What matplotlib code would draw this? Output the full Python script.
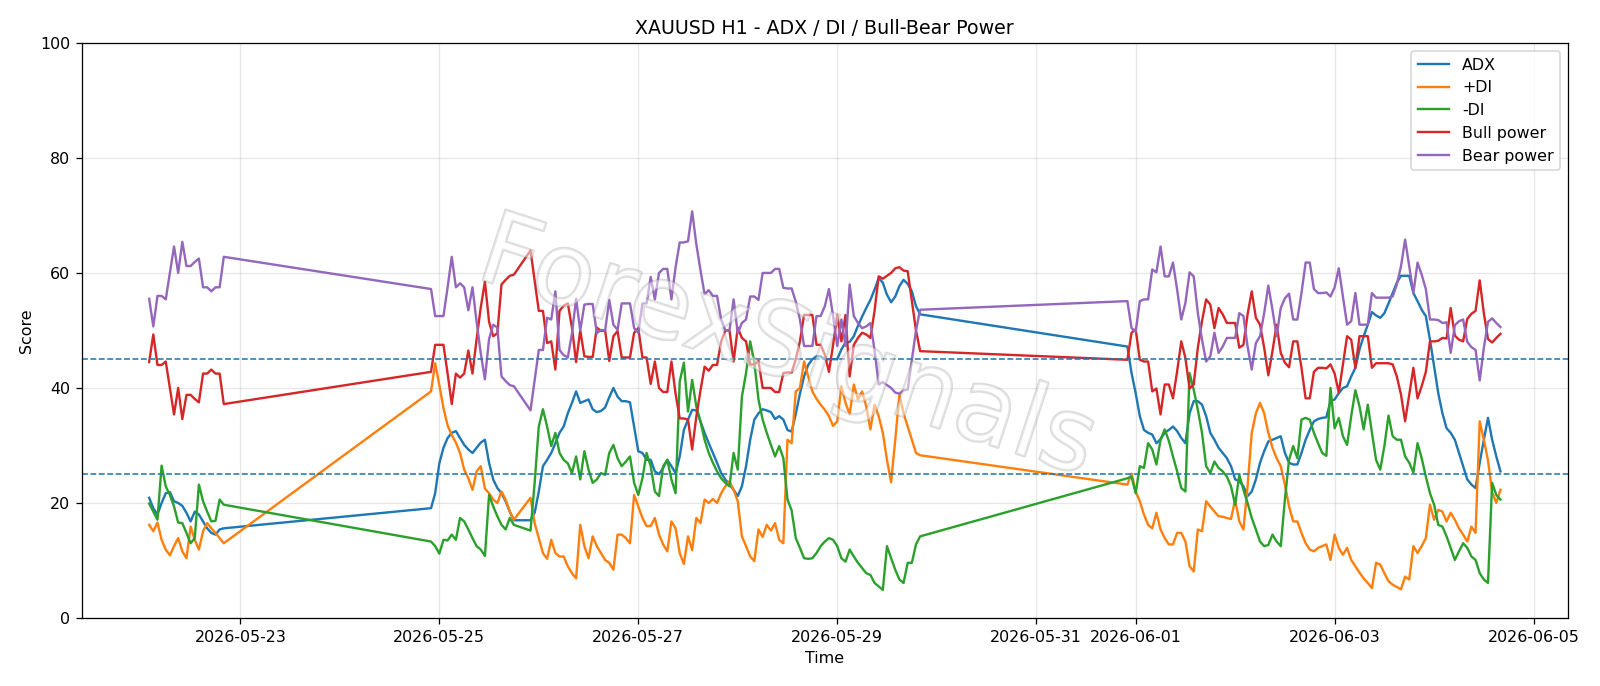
import matplotlib
matplotlib.use("Agg")
import matplotlib.pyplot as plt
import matplotlib.patheffects as pe
import pandas as pd

# hourly sessions (gaps = weekend / missing bars)
sessions = [("2026-05-22 02:00", "2026-05-22 20:00"),
            ("2026-05-24 22:00", "2026-05-29 20:00"),
            ("2026-05-31 22:00", "2026-06-04 16:00")]
missing = ["2026-05-25 19:00", "2026-05-25 20:00", "2026-05-25 21:00"]

adx = [20.9, 19.1, 18.0, 20.0, 21.7, 21.9, 20.3, 20.0, 19.5, 18.3, 16.8, 18.5, 18.0, 16.8, 15.6, 14.8, 14.5, 15.4, 15.6,
       19.1, 21.7, 26.9, 29.6, 31.3, 32.2, 32.5, 31.3, 30.1, 29.3, 28.7, 29.6, 30.5, 31.0, 27.0, 24.1, 22.6, 21.7, 20.3, 18.5, 17.0,
       17.0, 18.3, 22.0, 26.4, 27.5, 28.7, 30.4, 32.2, 33.3, 35.6,
       37.4, 39.4, 37.4, 37.7, 38.0, 36.3, 35.8, 36.0, 36.6, 38.4,
       40.0, 38.5, 37.7, 37.7, 37.5, 33.3, 29.0, 28.7, 27.5, 27.5,
       25.5, 25.0, 26.1, 27.5, 26.4, 25.2, 28.1, 32.7, 34.5, 36.2,
       36.1, 34.2, 32.2, 30.4, 28.7, 27.0, 25.2, 24.1, 23.2, 22.3,
       21.2, 22.9, 26.4, 31.0, 34.5, 35.6, 36.3, 36.1, 35.8, 34.6,
       35.1, 34.5, 32.7, 32.4, 35.5, 39.0, 42.0, 44.0, 45.0, 45.5,
       45.5, 45.0, 45.0, 45.0, 45.0, 46.7, 47.9, 48.0, 49.0, 50.8,
       52.4, 53.9, 55.3, 57.1, 59.1, 58.3, 56.2, 54.9, 55.9, 57.7,
       58.8, 58.1, 56.8, 54.2, 52.8,
       47.2, 42.6, 39.1, 35.1, 32.7, 32.2, 31.9, 30.4, 31.1, 32.2,
       32.7, 33.3, 32.5, 31.3, 30.4, 35.6, 37.7, 37.7, 37.1, 35.1,
       32.2, 31.0, 29.6, 28.7, 27.8, 26.4, 24.1, 23.8, 22.9, 21.2,
       22.0, 24.1, 27.0, 29.0, 30.7, 31.0, 31.3, 31.6, 28.7, 27.0,
       26.7, 26.7, 28.7, 31.0, 32.7, 34.2, 34.6, 34.8, 34.9, 37.7,
       38.0, 39.1, 40.0, 40.3, 42.0, 43.5, 46.7, 49.0, 51.0, 53.2,
       52.6, 52.2, 53.0, 54.7, 56.5, 58.3, 59.5, 59.5, 59.5, 56.5,
       55.1, 53.6, 52.5, 48.4, 43.8, 39.1, 35.6, 33.0, 32.2, 31.0,
       28.7, 26.4, 24.1, 23.2, 22.6, 27.0, 31.0, 34.8, 31.0, 28.1,
       25.5]

plus_di = [16.2, 15.1, 16.6, 13.6, 11.9, 10.9, 12.5, 13.9, 11.6, 10.4, 15.9, 13.6, 11.9, 15.1, 16.5, 15.6, 14.8, 13.9, 13.0,
           39.4, 44.3, 40.5, 36.5, 33.5, 31.8, 30.5, 28.7, 25.8, 24.3, 22.3, 25.5, 26.4, 22.5, 21.7, 20.6, 20.0, 22.0, 20.6, 18.5, 17.1,
           20.9, 16.5, 13.9, 11.3, 10.3, 13.6, 11.3, 10.7, 10.7, 9.0,
           7.8, 6.9, 16.2, 12.5, 10.4, 14.2, 12.5, 11.3, 10.1, 9.6,
           8.4, 14.5, 14.5, 13.9, 13.0, 21.4, 19.4, 17.4, 16.0, 16.0,
           17.4, 14.5, 12.8, 11.6, 16.8, 15.6, 11.3, 9.4, 14.2, 11.8,
           17.4, 16.5, 20.6, 20.0, 20.7, 20.0, 21.7, 22.9, 23.8, 22.3,
           20.3, 14.2, 12.5, 10.7, 9.9, 15.4, 14.1, 16.2, 15.2, 16.5,
           13.6, 13.0, 31.0, 30.4, 39.4, 40.0, 44.6, 42.0, 39.4, 38.1,
           37.1, 36.2, 35.1, 33.4, 34.2, 40.3, 37.4, 35.4, 40.6, 38.0,
           39.4, 36.8, 32.8, 37.1, 35.1, 32.2, 27.5, 23.6, 31.0, 38.8,
           35.6, 33.3, 31.0, 28.7, 28.3,
           23.2, 25.1, 22.0, 20.3, 18.0, 16.2, 15.6, 18.3, 15.4, 13.9,
           12.8, 12.8, 14.8, 14.8, 13.3, 9.0, 8.1, 15.4, 15.1, 20.3,
           19.4, 18.5, 17.7, 17.6, 17.4, 17.2, 20.6, 16.8, 15.4, 22.9,
           32.2, 35.6, 37.4, 35.6, 32.2, 29.6, 27.8, 26.4, 23.2, 19.4,
           16.8, 16.8, 14.8, 13.0, 11.9, 11.6, 12.2, 12.5, 12.8, 10.1,
           14.5, 12.2, 11.0, 12.2, 10.1, 9.0, 7.9, 6.9, 6.1, 5.2,
           9.6, 9.3, 7.8, 6.4, 5.8, 5.4, 5.0, 7.2, 6.7, 12.5,
           11.3, 12.5, 13.9, 19.7, 17.1, 18.8, 18.5, 16.8, 18.3, 17.1,
           15.6, 14.5, 13.3, 15.9, 14.8, 34.2, 31.0, 27.4, 21.9, 20.0,
           22.3]

minus_di = [19.9, 18.5, 17.1, 26.5, 22.9, 21.4, 19.4, 16.6, 16.5, 14.8, 13.0, 13.9, 23.2, 20.3, 18.5, 16.8, 16.9, 20.6, 19.7,
            13.3, 12.5, 11.2, 13.6, 13.5, 14.5, 13.6, 17.4, 16.8, 15.4, 13.9, 12.5, 11.9, 10.8, 21.4, 19.4, 17.7, 16.2, 15.4, 17.4, 16.2,
            15.2, 23.5, 33.3, 36.3, 33.3, 29.9, 32.2, 28.7, 27.5, 26.9,
            25.2, 28.1, 24.1, 29.0, 25.8, 23.5, 24.1, 25.2, 24.9, 28.7,
            30.1, 27.8, 26.4, 27.2, 28.1, 23.5, 21.4, 24.3, 28.7, 26.4,
            22.0, 21.2, 26.4, 27.5, 24.1, 21.7, 41.1, 44.4, 35.9, 41.4,
            36.8, 34.2, 31.0, 28.7, 27.0, 25.5, 24.3, 23.5, 22.9, 28.7,
            25.8, 38.5, 42.6, 48.1, 44.4, 38.0, 34.5, 32.2, 30.1, 28.1,
            29.9, 27.8, 20.6, 18.7, 13.9, 12.2, 10.4, 10.3, 10.4, 11.3,
            12.5, 13.3, 13.9, 13.6, 12.5, 10.4, 9.8, 11.9, 10.7, 9.6,
            8.7, 7.8, 7.5, 6.1, 5.5, 4.9, 12.5, 10.4, 8.4, 6.7,
            6.1, 9.6, 9.6, 12.8, 14.2,
            24.3, 24.6, 21.7, 26.4, 26.1, 30.4, 29.3, 26.7, 31.0, 32.8,
            30.8, 28.1, 25.5, 22.6, 22.0, 42.6, 39.7, 36.2, 32.2, 26.4,
            25.2, 27.2, 26.1, 25.5, 24.6, 22.9, 19.7, 24.9, 22.3, 20.0,
            17.4, 15.4, 13.3, 12.5, 12.7, 14.5, 13.3, 12.5, 20.6, 27.5,
            29.9, 27.8, 34.5, 34.8, 34.5, 32.2, 30.4, 28.7, 28.2, 40.0,
            33.0, 34.8, 31.6, 30.1, 35.1, 39.6, 36.8, 32.8, 37.1, 32.2,
            27.5, 25.8, 29.9, 35.2, 31.6, 31.0, 31.0, 28.1, 27.0, 25.3,
            30.4, 27.8, 24.6, 21.7, 19.7, 16.2, 15.9, 14.2, 12.2, 10.1,
            11.6, 13.0, 12.2, 10.7, 10.1, 7.8, 6.7, 6.1, 23.5, 21.4,
            20.6]

bull_power = [44.5, 49.3, 44.0, 44.0, 44.6, 40.0, 35.4, 40.0, 34.6, 38.8, 38.8, 38.1, 37.5, 42.5, 42.5, 43.2, 42.5, 42.5, 37.2,
              42.8, 47.5, 47.5, 47.5, 42.5, 37.2, 42.5, 41.8, 42.5, 46.5, 42.5, 48.5, 54.0, 58.5, 51.5, 49.0, 49.5, 58.0, 58.8, 59.5, 59.7,
              63.9, 58.6, 53.4, 53.4, 47.8, 48.1, 43.2, 53.4, 54.3, 54.7,
              50.5, 44.5, 50.0, 45.5, 45.4, 45.4, 50.5, 49.9, 50.0, 44.7,
              49.0, 49.9, 45.3, 45.3, 45.3, 49.6, 50.4, 45.3, 45.3, 40.7,
              44.6, 40.0, 39.3, 39.3, 44.6, 39.0, 34.7, 34.7, 34.5, 29.3,
              35.0, 39.5, 43.7, 43.0, 44.0, 44.0, 48.1, 50.0, 50.0, 44.6,
              50.5, 48.7, 48.1, 44.1, 44.1, 44.7, 40.0, 40.0, 40.0, 39.3,
              39.3, 42.6, 42.7, 42.7, 45.0, 48.1, 52.7, 52.7, 52.7, 47.5,
              47.5, 45.8, 42.8, 47.5, 52.7, 48.1, 52.7, 42.0, 47.5, 48.7,
              49.6, 49.3, 48.7, 53.4, 59.4, 59.0, 59.5, 60.0, 60.8, 61.0,
              60.4, 60.3, 55.2, 50.0, 46.4,
              44.9, 49.6, 50.2, 44.9, 44.6, 44.6, 39.4, 39.9, 35.4, 40.6,
              40.6, 38.2, 42.9, 48.1, 45.2, 39.9, 40.6, 47.0, 51.6, 55.4,
              54.5, 50.4, 53.9, 52.8, 51.3, 51.3, 51.3, 47.0, 47.5, 52.8,
              56.8, 52.2, 51.0, 47.0, 42.2, 46.4, 51.0, 46.1, 44.4, 43.6,
              48.1, 48.1, 43.5, 38.2, 38.2, 42.8, 43.5, 43.5, 43.4, 44.1,
              42.5, 39.2, 44.1, 49.0, 48.4, 43.5, 49.0, 49.0, 49.0, 43.5,
              44.3, 44.3, 44.3, 44.3, 44.1, 42.0, 38.9, 34.2, 38.9, 43.5,
              38.2, 40.3, 42.8, 48.1, 48.1, 48.2, 48.7, 48.6, 53.9, 49.1,
              48.4, 48.1, 52.0, 52.9, 53.4, 58.7, 53.0, 48.5, 47.9, 48.7,
              49.4]

bear_power = [55.5, 50.7, 56.0, 56.0, 55.4, 60.0, 64.6, 60.0, 65.4, 61.2, 61.2, 61.9, 62.5, 57.5, 57.5, 56.8, 57.5, 57.5, 62.8,
              57.2, 52.5, 52.5, 52.5, 57.5, 62.8, 57.5, 58.2, 57.5, 53.5, 57.5, 51.5, 46.0, 41.5, 48.5, 51.0, 50.5, 42.0, 41.2, 40.5, 40.3,
              36.1, 41.4, 46.6, 46.6, 52.2, 51.9, 56.8, 46.6, 45.7, 45.3,
              49.5, 55.5, 50.0, 54.5, 54.6, 54.6, 49.5, 50.1, 50.0, 55.3,
              51.0, 50.1, 54.7, 54.7, 54.7, 50.4, 49.6, 54.7, 54.7, 59.3,
              55.4, 60.0, 60.7, 60.7, 55.4, 61.0, 65.3, 65.3, 65.5, 70.7,
              65.0, 60.5, 56.3, 57.0, 56.0, 56.0, 51.9, 50.0, 50.0, 55.4,
              49.5, 51.3, 51.9, 55.9, 55.9, 55.3, 60.0, 60.0, 60.0, 60.7,
              60.7, 57.4, 57.3, 57.3, 55.0, 51.9, 47.3, 47.3, 47.3, 52.5,
              52.5, 54.2, 57.2, 52.5, 47.3, 51.9, 47.3, 58.0, 52.5, 51.3,
              50.4, 50.7, 51.3, 46.6, 40.6, 41.0, 40.5, 40.0, 39.2, 39.0,
              39.6, 39.7, 44.8, 50.0, 53.6,
              55.1, 50.4, 49.8, 55.1, 55.4, 55.4, 60.6, 60.1, 64.6, 59.4,
              59.4, 61.8, 57.1, 51.9, 54.8, 60.1, 59.4, 53.0, 48.4, 44.6,
              45.5, 49.6, 46.1, 47.2, 48.7, 48.7, 48.7, 53.0, 52.5, 47.2,
              43.2, 47.8, 49.0, 53.0, 57.8, 53.6, 49.0, 53.9, 55.6, 56.4,
              51.9, 51.9, 56.5, 61.8, 61.8, 57.2, 56.5, 56.5, 56.6, 55.9,
              57.5, 60.8, 55.9, 51.0, 51.6, 56.5, 51.0, 51.0, 51.0, 56.5,
              55.7, 55.7, 55.7, 55.7, 55.9, 58.0, 61.1, 65.8, 61.1, 56.5,
              61.8, 59.7, 57.2, 51.9, 51.9, 51.8, 51.3, 51.4, 46.1, 50.9,
              51.6, 51.9, 48.0, 47.1, 46.6, 41.3, 47.0, 51.5, 52.1, 51.3,
              50.6]

times = []
for start, end in sessions:
    for t in pd.date_range(start, end, freq="h"):
        if str(t)[:16] not in missing:
            times.append(t)

dpi = 1600 / 14
fig, ax = plt.subplots(figsize=(14, 686.4 / dpi), dpi=dpi)
fig.subplots_adjust(left=0.051, right=0.98, top=0.937, bottom=0.099)

ax.plot(times, adx, label="ADX")
ax.plot(times, plus_di, label="+DI")
ax.plot(times, minus_di, label="-DI")
ax.plot(times, bull_power, label="Bull power")
ax.plot(times, bear_power, label="Bear power")

ax.axhline(25, linestyle="--", linewidth=1)
ax.axhline(45, linestyle="--", linewidth=1)

ax.set_ylim(0, 100)
ax.set_title("XAUUSD H1 - ADX / DI / Bull-Bear Power")
ax.set_xlabel("Time")
ax.set_ylabel("Score")
ax.grid(True, alpha=0.3)
ax.legend(loc="upper right")

# watermark
fig.text(0.492, 0.49, "ForexSignals", fontsize=64, rotation=-18,
         ha="center", va="center", color="white", alpha=0.3,
         path_effects=[pe.withStroke(linewidth=1.6, foreground="#888888")])

fig.savefig("out.png")
